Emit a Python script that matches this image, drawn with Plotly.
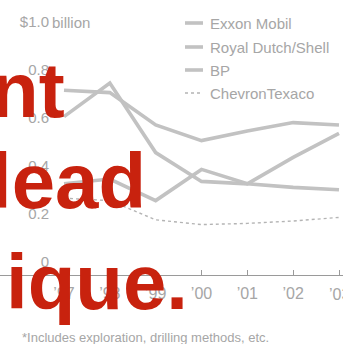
import plotly.graph_objects as go

years = [1997, 1998, 1999, 2000, 2001, 2002, 2003]
year_labels = ["’97", "’98", "’99", "’00", "’01", "’02", "’03"]
exxon = [0.77, 0.76, 0.625, 0.56, 0.60, 0.635, 0.625]
shell = [0.66, 0.80, 0.51, 0.39, 0.38, 0.49, 0.59]
bp = [0.38, 0.40, 0.31, 0.44, 0.38, 0.365, 0.355]
chevron = [0.32, 0.31, 0.23, 0.21, 0.215, 0.225, 0.24]
y_ticks = [0, 0.2, 0.4, 0.6, 0.8, 1.0]
y_ticktext = ["0", "0.2", "0.4", "0.6", "0.8", "$1.0"]
series_names = ["Exxon Mobil", "Royal Dutch/Shell", "BP", "ChevronTexaco"]
overlay_words = ["nt", "lead", "ique."]

W, H = 343, 344
FONT = "Liberation Sans, Arial, sans-serif"
GREY_TXT = "#a6a6a6"
LINE_C = "#c2c2c2"

fig = go.Figure()
series = [exxon, shell, bp, chevron]
for name, vals in zip(series_names, series):
    if name == "ChevronTexaco":
        line = dict(color="#b4b4b4", width=1.4, dash="dot")
    else:
        line = dict(color=LINE_C, width=3.6)
    fig.add_trace(go.Scatter(x=years, y=vals, mode="lines", name=name,
                             line=line, showlegend=False, hoverinfo="skip"))

px_per_year = 45.83
x0 = 1997 - 64 / px_per_year
x1 = 2003 + (W - 339) / px_per_year
y_top = 275 / 240
y_bot = (275 - H) / 240

# last label sits at the clipped right edge; drawn as an annotation (clipped by svg)
axis_ticktext = year_labels[:-1] + [""]

fig.update_layout(
    width=W, height=H, margin=dict(l=0, r=0, t=0, b=0),
    paper_bgcolor="white", plot_bgcolor="white",
    xaxis=dict(range=[x0, x1], domain=[0, 1], anchor="free",
               position=(H - 275) / H, showline=True, linecolor="#9a9a9a",
               linewidth=1, ticks="inside", ticklen=5, tickcolor="#9a9a9a",
               tickvals=years, ticktext=axis_ticktext, showgrid=False,
               zeroline=False, ticklabelstandoff=4,
               tickfont=dict(family=FONT, size=16, color=GREY_TXT)),
    yaxis=dict(range=[y_bot, y_top], domain=[0, 1], anchor="free",
               position=49 / W, showline=False, showgrid=False,
               zeroline=False, ticks="", tickvals=y_ticks,
               ticktext=y_ticktext, ticklabelshift=-13, ticklabelstandoff=0,
               tickfont=dict(family=FONT, size=15, color=GREY_TXT)),
)

annotations = []
annotations.append(dict(x=years[-1], y=1 - 294 / H, xref="x", yref="paper",
                        text=year_labels[-1], showarrow=False, xanchor="center",
                        yanchor="middle",
                        font=dict(family=FONT, size=16, color=GREY_TXT)))
annotations.append(dict(x=50 / W, y=1 - 22 / H, xref="paper", yref="paper",
                        text="billion", showarrow=False, xanchor="left",
                        yanchor="middle",
                        font=dict(family=FONT, size=15, color=GREY_TXT)))
shapes = []
leg_y = [23, 47, 70, 93]
for name, ly in zip(series_names, leg_y):
    is_dot = name == "ChevronTexaco"
    shapes.append(dict(type="line", xref="paper", yref="paper",
                       x0=185 / W, x1=203 / W, y0=1 - ly / H, y1=1 - ly / H,
                       line=dict(color="#b4b4b4" if is_dot else LINE_C,
                                 width=1.4 if is_dot else 3.6,
                                 dash="dot" if is_dot else "solid")))
    annotations.append(dict(x=208 / W, y=1 - ly / H, xref="paper", yref="paper",
                            text=name, showarrow=False, xanchor="left",
                            yanchor="middle",
                            font=dict(family=FONT, size=15, color=GREY_TXT)))
annotations.append(dict(x=20 / W, y=1 - 337 / H, xref="paper", yref="paper",
                        text="*Includes exploration, drilling methods, etc.",
                        showarrow=False, xanchor="left", yanchor="middle",
                        font=dict(family=FONT, size=13, color=GREY_TXT)))
RED = "#c8220e"
word_pos = [(67, 90), (148, 181), (190, 282)]
for word, (rx, cy) in zip(overlay_words, word_pos):
    annotations.append(dict(x=rx / W, y=1 - cy / H, xref="paper", yref="paper",
                            text="<b>%s</b>" % word, showarrow=False,
                            xanchor="right", yanchor="middle",
                            font=dict(family="Liberation Sans, Arial, sans-serif",
                                      size=78, color=RED)))

fig.update_layout(annotations=annotations, shapes=shapes)
fig.write_html("out.html")
